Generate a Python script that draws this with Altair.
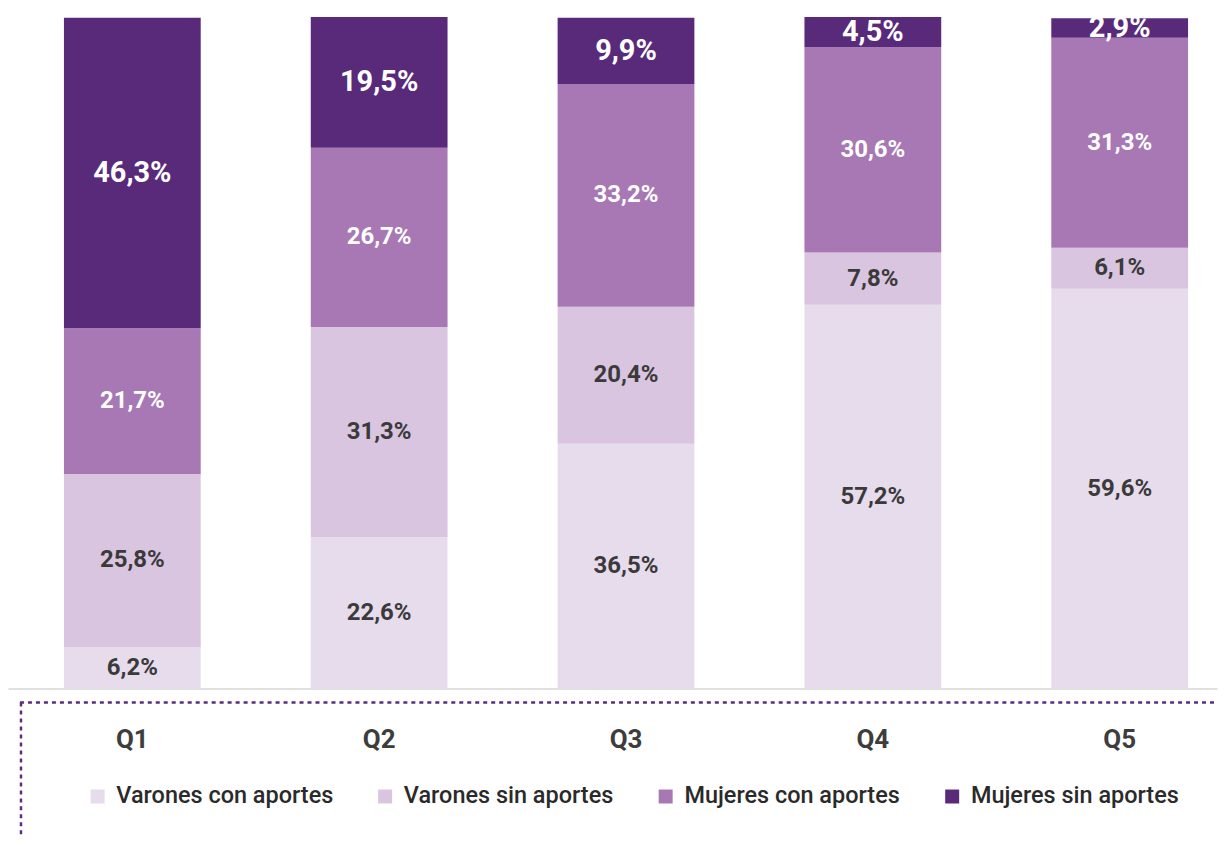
import altair as alt
import pandas as pd

quintiles = ["Q1", "Q2", "Q3", "Q4", "Q5"]
series = ["Varones con aportes", "Varones sin aportes", "Mujeres con aportes", "Mujeres sin aportes"]
varones_con = [6.2, 22.6, 36.5, 57.2, 59.6]
varones_sin = [25.8, 31.3, 20.4, 7.8, 6.1]
mujeres_con = [21.7, 26.7, 33.2, 30.6, 31.3]
mujeres_sin = [46.3, 19.5, 9.9, 4.5, 2.9]
colors = ["#e7dcec", "#d9c5e0", "#a778b4", "#592a7a"]
label_colors = ["#3a3a3a", "#3a3a3a", "#ffffff", "#ffffff"]

rows = []
for si, (name, vals) in enumerate(zip(series, [varones_con, varones_sin, mujeres_con, mujeres_sin])):
    for q, v in zip(quintiles, vals):
        rows.append({
            "quintil": q,
            "serie": name,
            "orden": si,
            "valor": v,
            "etiqueta": f"{v:.1f}".replace(".", ",") + "%",
            "big": si == 3,
        })
df = pd.DataFrame(rows)

FONT = "Roboto"
W = 1211

x_enc = alt.X(
    "quintil:N",
    sort=quintiles,
    title=None,
    scale=alt.Scale(paddingInner=0.446, paddingOuter=0.172, align=0.659),
    axis=alt.Axis(
        labelAngle=0,
        labelFont=FONT,
        labelFontSize=26,
        labelFontWeight="bold",
        labelColor="#3d3d3d",
        labelPadding=38,
        ticks=False,
        domainColor="#d6d6d6",
        domainWidth=1.5,
        grid=False,
    ),
)

base = alt.Chart(df)

bars = base.mark_bar(size=137).encode(
    x=x_enc,
    y=alt.Y("valor:Q", stack="zero", scale=alt.Scale(domain=[0, 100]), axis=None),
    color=alt.Color(
        "serie:N",
        sort=series,
        scale=alt.Scale(domain=series, range=colors),
        legend=alt.Legend(
            title=None,
            orient="none",
            legendX=78,
            legendY=768,
            direction="horizontal",
            symbolType="square",
            symbolSize=196,
            symbolStrokeWidth=0,
            labelFont=FONT,
            labelFontSize=23.5,
            labelFontWeight=500,
            labelColor="#2a2a2a",
            labelOffset=7,
            labelLimit=400,
            columnPadding=40,
            padding=0,
        ),
    ),
    order=alt.Order("orden:Q", sort="ascending"),
)

stacked = base.transform_stack(
    stack="valor", groupby=["quintil"], as_=["y0", "y1"], sort=[alt.SortField("orden", order="ascending")]
).transform_calculate(mid="(datum.y0 + datum.y1) / 2")

text_small = stacked.transform_filter("!datum.big").mark_text(
    font=FONT, fontSize=24, fontWeight="bold", baseline="middle", align="center"
).encode(
    x=alt.X("quintil:N", sort=quintiles),
    y=alt.Y("mid:Q"),
    text="etiqueta:N",
    color=alt.Color("serie:N", scale=alt.Scale(domain=series, range=label_colors), legend=None),
)

text_big = stacked.transform_filter("datum.big").mark_text(
    font=FONT, fontSize=29, fontWeight="bold", baseline="middle", align="center", color="#ffffff", clip=True
).encode(
    x=alt.X("quintil:N", sort=quintiles),
    y=alt.Y("mid:Q"),
    text="etiqueta:N",
)

one = alt.Chart(pd.DataFrame({"a": [0]}))
border_h = one.mark_rule(color="#5e2d80", strokeWidth=2.5, strokeDash=[4, 4]).encode(
    x=alt.value(12), x2=alt.value(W), y=alt.value(686)
)
border_v = one.mark_rule(color="#5e2d80", strokeWidth=2.5, strokeDash=[4, 4]).encode(
    x=alt.value(13), y=alt.value(686), y2=alt.value(822)
)

chart = alt.layer(bars, text_small, text_big, border_h, border_v).resolve_scale(
    color="independent"
).properties(
    width=W,
    height=672,
    padding={"top": 8, "left": 0, "right": 0, "bottom": 0},
).configure_view(stroke=None)

chart.save("out.html", embed_options={"renderer": "svg", "actions": False})
